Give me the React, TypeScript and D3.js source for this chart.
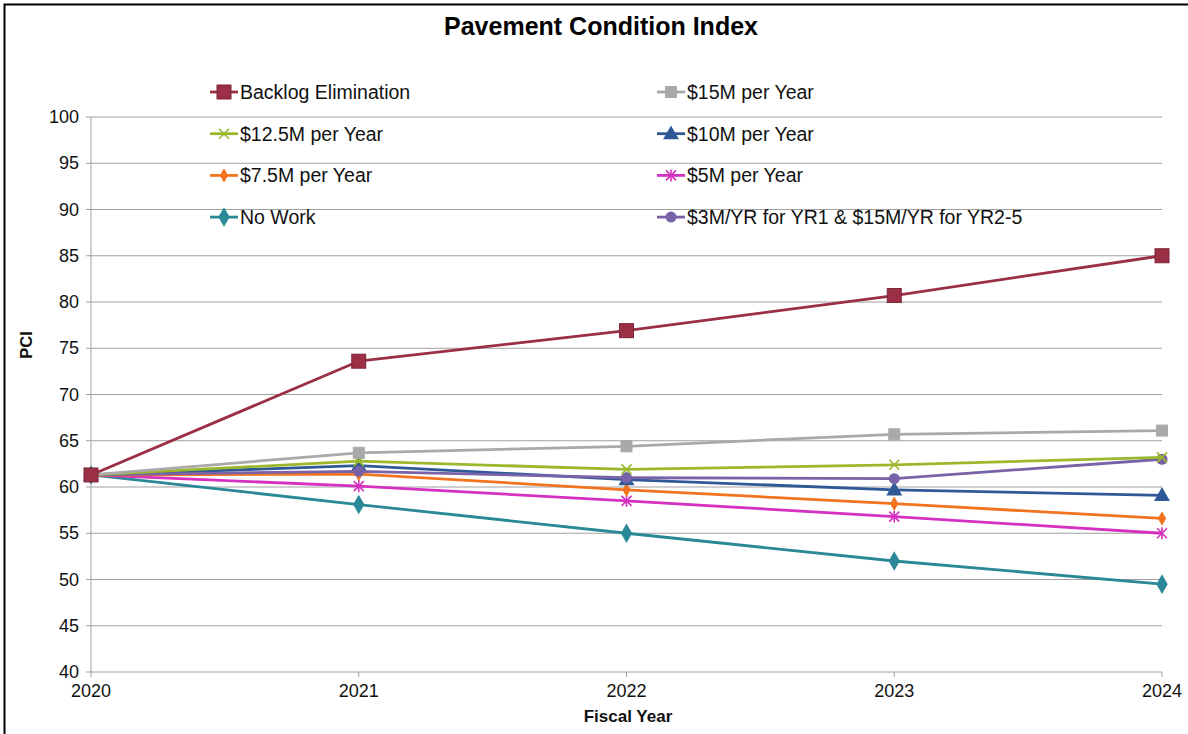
import React from "react";
import * as d3 from "d3";

const years = ["2020", "2021", "2022", "2023", "2024"];
const yTicks = [40, 45, 50, 55, 60, 65, 70, 75, 80, 85, 90, 95, 100];

const backlog = [61.3, 73.6, 76.9, 80.7, 85.0];
const m15 = [61.3, 63.7, 64.4, 65.7, 66.1];
const m125 = [61.3, 62.8, 61.9, 62.4, 63.2];
const m10 = [61.3, 62.3, 60.8, 59.7, 59.1];
const m75 = [61.3, 61.4, 59.7, 58.2, 56.6];
const m5 = [61.3, 60.1, 58.5, 56.8, 55.0];
const noWork = [61.3, 58.1, 55.0, 52.0, 49.5];
const m3then15 = [61.3, 61.7, 61.0, 60.9, 63.0];

type Marker = "square" | "squareSm" | "x" | "triangle" | "diamondSm" | "star" | "diamond" | "circle";

const series: { name: string; values: number[]; color: string; marker: Marker }[] = [
  { name: "Backlog Elimination", values: backlog, color: "#9A2F45", marker: "square" },
  { name: "$15M per Year", values: m15, color: "#A9A9A9", marker: "squareSm" },
  { name: "$12.5M per Year", values: m125, color: "#9BB82C", marker: "x" },
  { name: "$10M per Year", values: m10, color: "#2F5897", marker: "triangle" },
  { name: "$7.5M per Year", values: m75, color: "#F27420", marker: "diamondSm" },
  { name: "$5M per Year", values: m5, color: "#D630C2", marker: "star" },
  { name: "No Work", values: noWork, color: "#2A8898", marker: "diamond" },
  { name: "$3M/YR for YR1 & $15M/YR for YR2-5", values: m3then15, color: "#7862A8", marker: "circle" },
];

// draw order (back to front)
const drawOrder = [6, 5, 4, 3, 7, 2, 1, 0];

function MarkerShape({ type, x, y, color }: { type: Marker; x: number; y: number; color: string }) {
  switch (type) {
    case "square":
      return <rect x={x - 7} y={y - 7} width={14} height={14} fill={color} stroke={d3.color(color)!.darker(0.6).toString()} strokeWidth={1} />;
    case "squareSm":
      return <rect x={x - 5.5} y={y - 5.5} width={11} height={11} fill={color} stroke={color} />;
    case "x":
      return (
        <g stroke={color} strokeWidth={1.6}>
          <line x1={x - 5} y1={y - 5} x2={x + 5} y2={y + 5} />
          <line x1={x - 5} y1={y + 5} x2={x + 5} y2={y - 5} />
        </g>
      );
    case "triangle": {
      const p = d3.symbol(d3.symbolTriangle, 110)()!;
      return <path d={p} transform={`translate(${x},${y + 1})`} fill={color} />;
    }
    case "diamondSm": {
      const p = d3.symbol(d3.symbolDiamond, 60)()!;
      return <path d={p} transform={`translate(${x},${y})`} fill={color} />;
    }
    case "diamond": {
      const p = d3.symbol(d3.symbolDiamond, 110)()!;
      return <path d={p} transform={`translate(${x},${y})`} fill={color} />;
    }
    case "star":
      return (
        <g stroke={color} strokeWidth={1.6}>
          <line x1={x - 5} y1={y - 5} x2={x + 5} y2={y + 5} />
          <line x1={x - 5} y1={y + 5} x2={x + 5} y2={y - 5} />
          <line x1={x} y1={y - 6} x2={x} y2={y + 6} />
        </g>
      );
    case "circle":
      return <circle cx={x} cy={y} r={5.5} fill={color} />;
  }
}

export default function App() {
  const W = 1188;
  const H = 734;
  const x = d3.scalePoint<string>().domain(years).range([91, 1162]);
  const y = d3.scaleLinear().domain([40, 100]).range([672, 117]);
  const line = d3
    .line<number>()
    .x((_, i) => x(years[i])!)
    .y((d) => y(d));

  const font = "'Liberation Sans', Arial, sans-serif";

  const legendPos = (i: number) => {
    const col = i % 2;
    const row = Math.floor(i / 2);
    return { lx: col === 0 ? 210 : 657, ly: 92 + row * 41.7 };
  };

  return (
    <svg width={W} height={H} style={{ position: "absolute", left: 0, top: 0, background: "#fff" }} fontFamily={font}>
      <rect x={0} y={0} width={W} height={H} fill="#fff" />
      <rect x={4.5} y={4.5} width={W + 20} height={H + 20} fill="none" stroke="#000" strokeWidth={2} />

      <text x={601} y={35} textAnchor="middle" fontSize={25} fontWeight="bold" fill="#000">
        Pavement Condition Index
      </text>

      {/* gridlines */}
      {yTicks.map((t) => (
        <g key={t}>
          <line x1={91} x2={1162} y1={y(t)} y2={y(t)} stroke="#A0A0A0" strokeWidth={1} />
          <line x1={86} x2={91} y1={y(t)} y2={y(t)} stroke="#A0A0A0" strokeWidth={1} />
          <text x={79} y={y(t) + 6} textAnchor="end" fontSize={18} fill="#111">
            {t}
          </text>
        </g>
      ))}
      <line x1={91} x2={91} y1={y(100)} y2={y(40)} stroke="#A0A0A0" strokeWidth={1} />
      {years.map((yr) => (
        <g key={yr}>
          <line x1={x(yr)} x2={x(yr)} y1={672} y2={677} stroke="#A0A0A0" strokeWidth={1} />
          <text x={x(yr)} y={697} textAnchor="middle" fontSize={18} fill="#111">
            {yr}
          </text>
        </g>
      ))}

      <text x={628} y={722} textAnchor="middle" fontSize={17} fontWeight="bold" fill="#111">
        Fiscal Year
      </text>
      <text transform={`translate(32,345) rotate(-90)`} textAnchor="middle" fontSize={16.5} fontWeight="bold" fill="#111">
        PCI
      </text>

      {/* series */}
      {drawOrder.map((si) => {
        const s = series[si];
        return (
          <g key={s.name}>
            <path d={line(s.values)!} fill="none" stroke={s.color} strokeWidth={2.8} strokeLinejoin="round" />
            {s.values.map((v, i) => (
              <MarkerShape key={i} type={s.marker} x={x(years[i])!} y={y(v)} color={s.color} />
            ))}
          </g>
        );
      })}

      {/* legend */}
      {series.map((s, i) => {
        const { lx, ly } = legendPos(i);
        return (
          <g key={s.name}>
            <line x1={lx} x2={lx + 28} y1={ly} y2={ly} stroke={s.color} strokeWidth={2.8} />
            <MarkerShape type={s.marker} x={lx + 14} y={ly} color={s.color} />
            <text x={lx + 30} y={ly + 7} fontSize={19.5} fill="#111">
              {s.name}
            </text>
          </g>
        );
      })}
    </svg>
  );
}
